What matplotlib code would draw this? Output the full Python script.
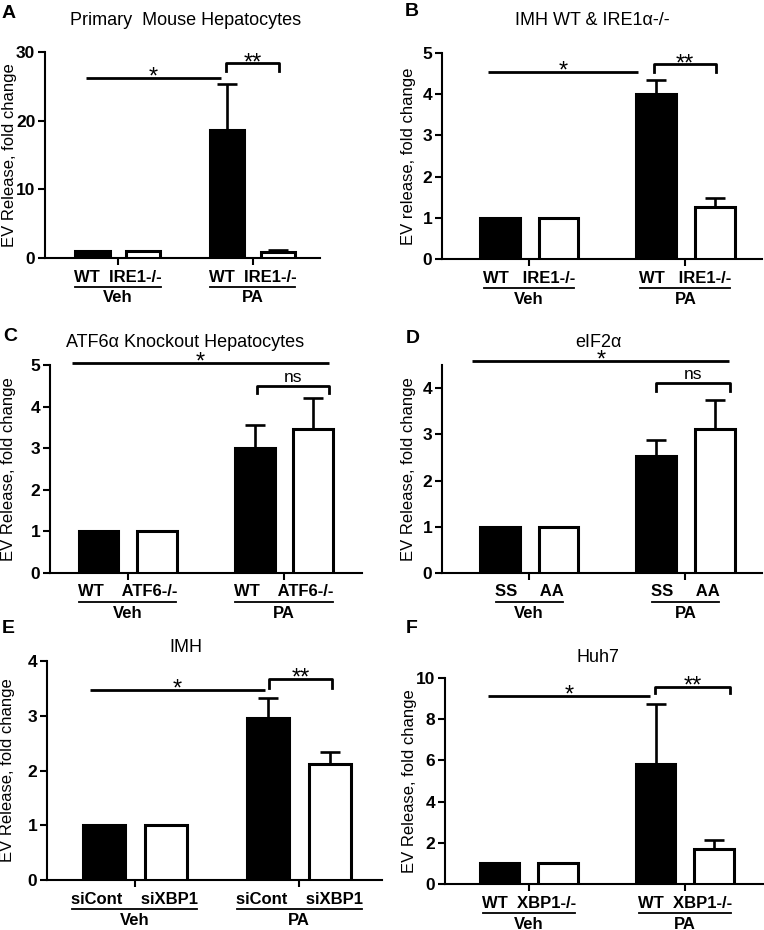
import matplotlib
matplotlib.use("Agg")
import matplotlib.pyplot as plt
import matplotlib.transforms as mtransforms

plt.rcParams['font.family'] = ['Liberation Sans', 'DejaVu Sans']

# ---------------- data ----------------
groups = ["Veh", "PA"]

titles = ["Primary  Mouse Hepatocytes", "IMH WT & IRE1\u03b1-/-", "ATF6\u03b1 Knockout Hepatocytes",
          "eIF2\u03b1", "IMH", "Huh7"]
letters = ["A", "B", "C", "D", "E", "F"]
ylabels = ["EV Release, fold change", "EV release, fold change", "EV Release, fold change",
           "EV Release, fold change", "EV Release, fold change", "EV Release, fold change"]
bar_labels = ["WT  IRE1-/-", "WT   IRE1-/-", "WT    ATF6-/-", "SS     AA", "siCont    siXBP1", "WT  XBP1-/-"]

means_A = [1.0, 1.0, 18.7, 0.9]
errs_A = [0.0, 0.0, 6.6, 0.3]
means_B = [1.0, 1.0, 4.0, 1.27]
errs_B = [0.0, 0.0, 0.35, 0.21]
means_C = [1.0, 1.0, 3.0, 3.45]
errs_C = [0.0, 0.0, 0.55, 0.75]
means_D = [1.0, 1.0, 2.53, 3.12]
errs_D = [0.0, 0.0, 0.34, 0.63]
means_E = [1.0, 1.0, 2.95, 2.12]
errs_E = [0.0, 0.0, 0.38, 0.21]
means_F = [1.0, 1.0, 5.82, 1.72]
errs_F = [0.0, 0.0, 2.9, 0.4]

yticks_A = [0, 10, 20, 30]
yticks_B = [0, 1, 2, 3, 4, 5]
yticks_C = [0, 1, 2, 3, 4, 5]
yticks_D = [0, 1, 2, 3, 4]
yticks_E = [0, 1, 2, 3, 4]
yticks_F = [0, 2, 4, 6, 8, 10]
ylims = [30, 5, 5, 4.5, 4, 10]

# significance annotations: (line y, x0, x1, label) and bracket (top y, leg y, x0, x1, label)
sig_line = [(26.2, -0.13, 2.54, "*"), (4.54, -0.2, 2.36, "*"), (5.05, -0.45, 3.94, "*"),
            (4.58, -0.47, 3.92, "*"), (3.47, -0.23, 2.62, "*"), (9.13, -0.2, 2.57, "*")]
sig_bracket = [(28.4, 27.2, 2.64, 3.69, "**"), (4.73, 4.54, 2.63, 3.69, "**"), (4.5, 4.33, 2.71, 3.94, "ns"),
               (4.1, 3.93, 2.66, 3.94, "ns"), (3.68, 3.5, 2.68, 3.71, "**"), (9.58, 9.25, 2.66, 3.94, "**")]

means = [means_A, means_B, means_C, means_D, means_E, means_F]
errs = [errs_A, errs_B, errs_C, errs_D, errs_E, errs_F]
yticks = [yticks_A, yticks_B, yticks_C, yticks_D, yticks_E, yticks_F]

# ---------------- layout ----------------
W, H = 764, 930
fig = plt.figure(figsize=(W / 100, H / 100), dpi=100)

positions = [0, 1, 2.67, 3.67]
group_centers = [0.5, 3.17]
colors = ["black", "white", "black", "white"]

# per panel: left px, top px, bottom px, px per x unit, xlim left, xlim right
layout = [
    (45, 52, 258, 50.5, -0.94, 4.5),
    (442, 53, 259, 58.5, -0.99, 4.48),
    (50, 365, 573, 58.5, -0.83, 4.5),
    (442, 365, 573, 58.5, -0.99, 4.48),
    (47, 661, 880, 61.5, -0.93, 4.52),
    (445, 678, 884, 58.5, -0.93, 4.5),
]
ylabel_dx = [35, 33, 41, 33, 39, 36]
# title centre x, baseline y (pixels)
title_pos = [(186, 25), (592, 25), (185, 347), (598, 347), (186, 652), (598, 662)]
letter_pos = [(9, 18), (412, 16), (10, 341), (413, 343), (8, 633), (412, 633)]

fig.canvas.draw()
renderer = fig.canvas.get_renderer()

for i in range(6):
    left, top, bottom, scale, xl, xr = layout[i]
    width_px = (xr - xl) * scale
    ax = fig.add_axes([left / W, 1 - bottom / H, width_px / W, (bottom - top) / H])
    ax.set_xlim(xl, xr)
    ax.set_ylim(0, ylims[i])
    for p, m, e, c in zip(positions, means[i], errs[i], colors):
        ax.bar(p, m, width=0.68, color=c, edgecolor="black", linewidth=2.2, zorder=3)
        if e > 0:
            ax.errorbar(p, m, yerr=[[0], [e]], fmt="none", ecolor="black", elinewidth=1.9,
                        capsize=7, capthick=1.9, zorder=2)
    for s in ["top", "right"]:
        ax.spines[s].set_visible(False)
    for s in ["left", "bottom"]:
        ax.spines[s].set_linewidth(1.5)
    ax.set_yticks(yticks[i])
    ax.set_yticklabels([str(t) for t in yticks[i]], fontsize=12.5, fontweight="bold")
    ax.tick_params(axis="y", length=5, width=1.5, pad=2)
    ax.set_xticks(group_centers)
    ax.set_xticklabels([])
    ax.tick_params(axis="x", length=5, width=1.5)
    ax.set_ylabel(ylabels[i], fontsize=12)
    ax.yaxis.label.set_va("center")
    ax.yaxis.set_label_coords(-ylabel_dx[i] / width_px, 0.5)

    # x labels
    for g, gc in zip(groups, group_centers):
        tr1 = mtransforms.offset_copy(ax.get_xaxis_transform(), fig=fig, x=0, y=-19 * 0.72, units="points")
        t = ax.text(gc, 0, bar_labels[i], transform=tr1, ha="center", va="center",
                    fontsize=12, fontweight="bold")
        bb = t.get_window_extent(renderer=renderer)
        inv = ax.transData.inverted()
        x0 = inv.transform((bb.x0 + 1, 0))[0]
        x1 = inv.transform((bb.x1 - 1, 0))[0]
        tr2 = mtransforms.offset_copy(ax.get_xaxis_transform(), fig=fig, x=0, y=-29 * 0.72, units="points")
        ax.plot([x0, x1], [0, 0], transform=tr2, color="black", lw=1.3, clip_on=False)
        tr3 = mtransforms.offset_copy(ax.get_xaxis_transform(), fig=fig, x=0, y=-40 * 0.72, units="points")
        ax.text(gc, 0, g, transform=tr3, ha="center", va="center", fontsize=12, fontweight="bold")

    # significance line
    ly, lx0, lx1, lt = sig_line[i]
    ax.plot([lx0, lx1], [ly, ly], color="black", lw=2.0, clip_on=False, solid_capstyle="butt")
    ax.annotate(lt, xy=((lx0 + lx1) / 2, ly), xytext=(0, -4), textcoords="offset points",
                ha="center", va="baseline", fontsize=17, annotation_clip=False)
    # bracket
    by, bl, bx0, bx1, bt = sig_bracket[i]
    ax.plot([bx0, bx0, bx1, bx1], [bl, by, by, bl], color="black", lw=2.0, clip_on=False)
    if bt == "ns":
        ax.annotate(bt, xy=((bx0 + bx1) / 2, by), xytext=(0, 3), textcoords="offset points",
                    ha="center", va="baseline", fontsize=12.5, annotation_clip=False)
    else:
        ax.annotate(bt, xy=((bx0 + bx1) / 2, by), xytext=(0, -4.5), textcoords="offset points",
                    ha="center", va="baseline", fontsize=17, annotation_clip=False)

    fig.text(title_pos[i][0] / W, 1 - title_pos[i][1] / H, titles[i], ha="center", va="baseline",
             fontsize=13)
    fig.text(letter_pos[i][0] / W, 1 - letter_pos[i][1] / H, letters[i], ha="center", va="baseline",
             fontsize=14, fontweight="bold")

fig.savefig("out.png", dpi=100)
